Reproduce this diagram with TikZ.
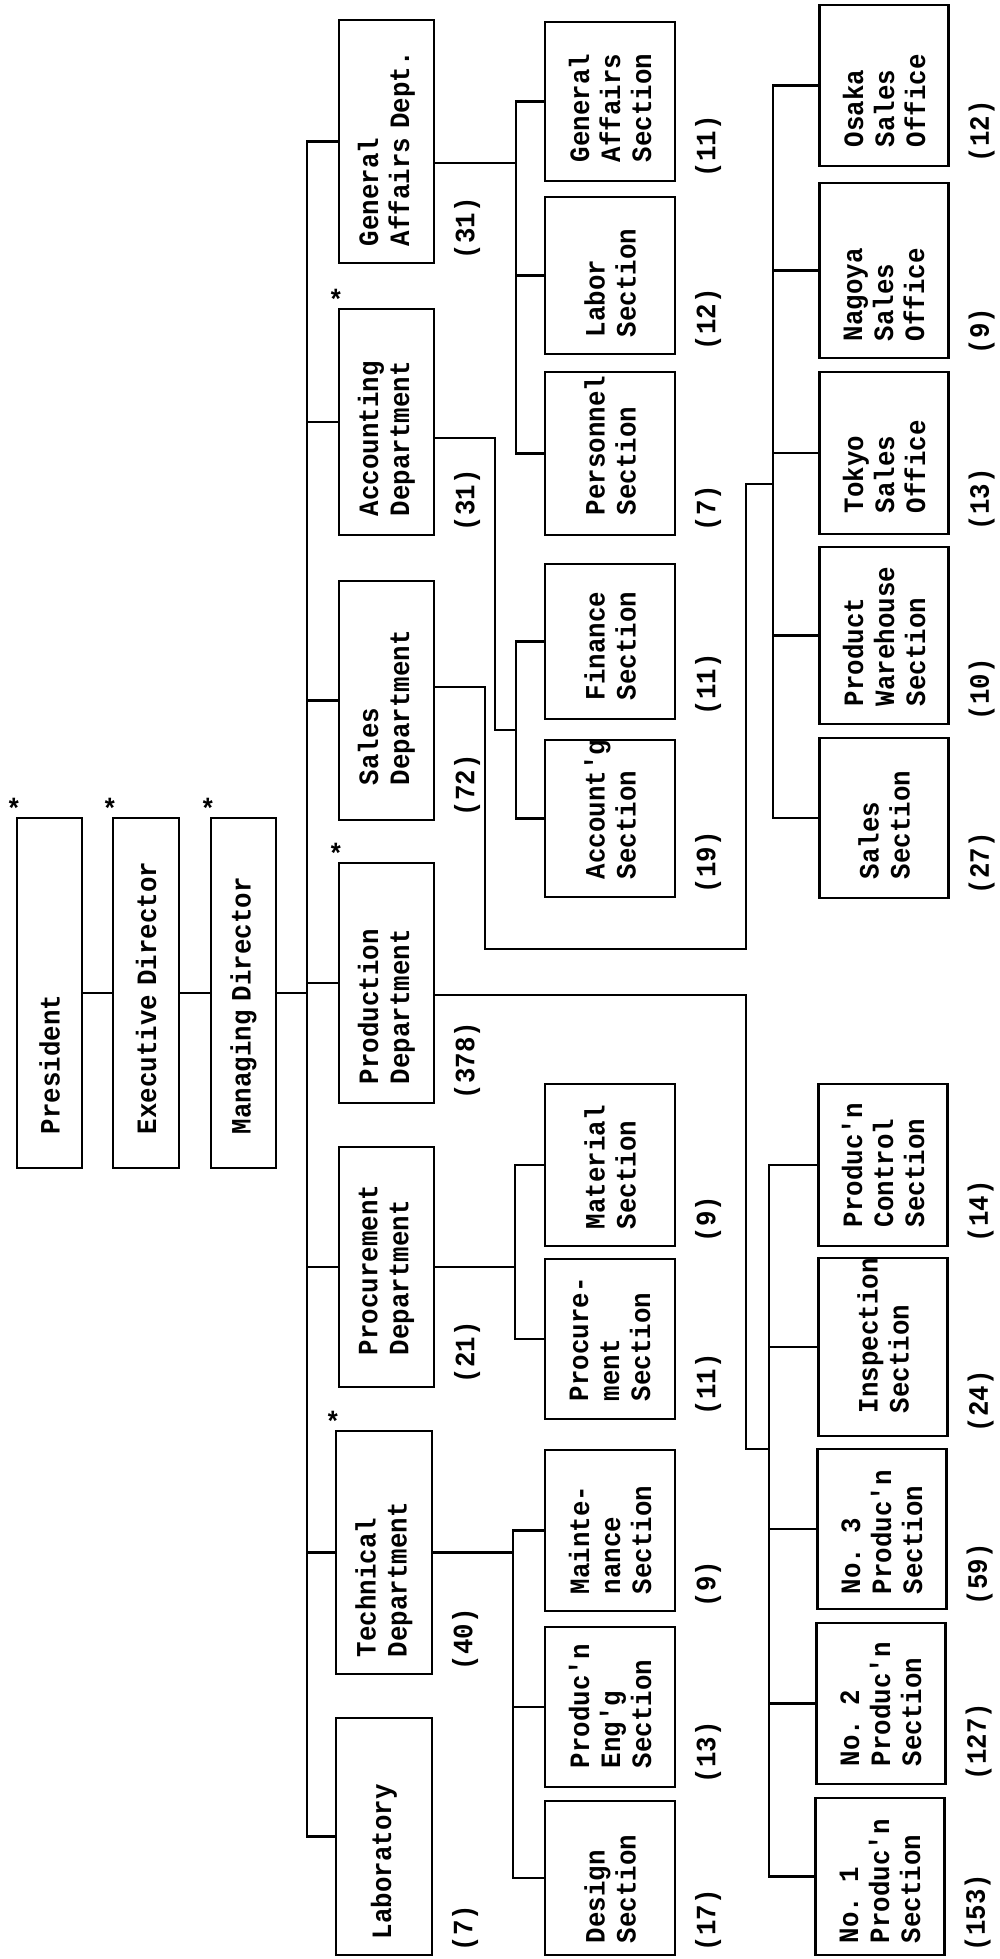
\documentclass[tikz,border=0pt]{standalone}
\usepackage{fontspec}
\setmonofont[FakeStretch=0.92]{Liberation Mono}
\newcommand{\chartfont}{\ttfamily\bfseries\fontsize{28}{31}\selectfont\hyphenpenalty=10000 }
\tikzset{
    orgbox/.style={draw, line width=2.4pt, rotate=90, align=left, inner ysep=0pt, inner xsep=18pt, font=\chartfont},
    headcount/.style={rotate=90, anchor=west, inner sep=0pt, font=\chartfont},
    starmark/.style={inner sep=0pt, font=\chartfont},
    wire/.style={line width=2.4pt, line cap=rect}
}
\begin{document}
\begin{tikzpicture}[x=1pt, y=-1pt]
    \useasboundingbox (0,0) rectangle (999,1959);

    % top of the line
    \node[orgbox, minimum height=65pt, text width=282pt, inner xsep=34pt] (pres) at (49.5,993) {President};
    \node[orgbox, minimum height=66pt, text width=282pt, inner xsep=34pt] (exec) at (146,993) {Executive Director};
    \node[orgbox, minimum height=65pt, text width=282pt, inner xsep=34pt] (mgr) at (243.5,993) {Managing Director};

    % departments
    \node[orgbox, minimum height=95pt, text width=209pt, inner xsep=17pt] (gad) at (386.5,141.5) {General\\Affairs Dept.};
    \node[orgbox, minimum height=95pt, text width=188pt, inner xsep=19pt] (acc) at (386.5,422) {Accounting\\Department};
    \node[orgbox, minimum height=95pt, text width=169pt, inner xsep=35pt] (sal) at (386.5,700.5) {Sales\\Department};
    \node[orgbox, minimum height=95pt, text width=202pt, inner xsep=19pt] (prd) at (386.5,983) {Production\\Department};
    \node[orgbox, minimum height=95pt, text width=176pt, inner xsep=32pt] (prc) at (386.5,1267) {Procurement\\Department};
    \node[orgbox, minimum height=96pt, text width=209pt, inner xsep=17pt] (tec) at (384,1552.5) {Technical\\Department};
    \node[orgbox, minimum height=96pt, text width=205pt, inner xsep=16pt] (lab) at (384,1836.5) {Laboratory};

    % sections, first column
    \node[orgbox, minimum height=130pt, text width=121pt, inner xsep=19pt] (gas) at (610,101.5) {General\\Affairs\\Section};
    \node[orgbox, minimum height=130pt, text width=123pt, inner xsep=17pt] (lbr) at (610,275.5) {Labor\\Section};
    \node[orgbox, minimum height=130pt, text width=123pt, inner xsep=20pt] (per) at (610,453.5) {Personnel\\Section};
    \node[orgbox, minimum height=130pt, text width=117pt, inner xsep=19pt] (fin) at (610,641.5) {Finance\\Section};
    \node[orgbox, minimum height=130pt, text width=121pt, inner xsep=18pt] (acs) at (610,818.5) {Account'g\\Section};
    \node[orgbox, minimum height=130pt, text width=128pt, inner xsep=17pt] (mat) at (610,1165) {Material\\Section};
    \node[orgbox, minimum height=130pt, text width=124pt, inner xsep=18pt] (pcs) at (610,1339) {Procure-\\ment\\Section};
    \node[orgbox, minimum height=130pt, text width=127pt, inner xsep=17pt] (mnt) at (610,1530.5) {Mainte-\\nance\\Section};
    \node[orgbox, minimum height=130pt, text width=122pt, inner xsep=19pt] (pen) at (610,1707) {Produc'n\\Eng'g\\Section};
    \node[orgbox, minimum height=130pt, text width=130pt, inner xsep=12pt] (dsn) at (610,1878) {Design\\Section};

    % sections, second column
    \node[orgbox, minimum height=129pt, text width=123pt, inner xsep=19pt] (osk) at (884,85.5) {Osaka\\Sales\\Office};
    \node[orgbox, minimum height=129pt, text width=141pt, inner xsep=17pt] (ngy) at (884,270.5) {Nagoya\\Sales\\Office};
    \node[orgbox, minimum height=129pt, text width=120pt, inner xsep=21pt] (tky) at (884,453) {Tokyo\\Sales\\Office};
    \node[orgbox, minimum height=129pt, text width=141pt, inner xsep=18pt] (pwh) at (884,635.5) {Product\\Warehouse\\Section};
    \node[orgbox, minimum height=129pt, text width=122pt, inner xsep=19pt] (sss) at (884,818) {Sales\\Section};
    \node[orgbox, minimum height=129pt, text width=124pt, inner xsep=19pt] (pcn) at (883,1165) {Produc'n\\Control\\Section};
    \node[orgbox, minimum height=129pt, text width=132pt, inner xsep=23pt] (ins) at (883,1347) {Inspection\\Section};
    \node[orgbox, minimum height=129pt, text width=130pt, inner xsep=15pt] (n3) at (882,1529) {No. 3\\Produc'n\\Section};
    \node[orgbox, minimum height=129pt, text width=125pt, inner xsep=18pt] (n2) at (881,1703.5) {No. 2\\Produc'n\\Section};
    \node[orgbox, minimum height=129pt, text width=133pt, inner xsep=12pt] (n1) at (880,1876.5) {No. 1\\Produc'n\\Section};

    % head counts
    \foreach \n/\c in {gad/31, acc/31, sal/72, prd/378, prc/21, tec/40, lab/7,
                       gas/11, lbr/12, per/7, fin/11, acs/19, mat/9, pcs/11, mnt/9, pen/13, dsn/17,
                       osk/12, ngy/9, tky/13, pwh/10, sss/27, pcn/14, ins/24, n3/59, n2/127, n1/153}
        \node[headcount] (\n-n) at ([xshift=32pt, yshift=5pt]\n.south west) {(\c)};

    % stars
    \foreach \n in {pres, exec, mgr, acc, prd, tec}
        \node[starmark] (\n-s) at ([xshift=-2pt, yshift=8pt]\n.north east) {*};

    % main line
    \coordinate (sp) at (307,0);
    \draw[wire] (pres.south) -- (exec.north);
    \draw[wire] (exec.south) -- (mgr.north);
    \draw[wire] (mgr.south) -- (mgr.south -| sp);
    \draw[wire] (gad.north -| sp) -- (lab.north -| sp);
    \foreach \n in {gad, acc, sal, prd, prc, tec, lab}
        \draw[wire] (\n.north -| sp) -- (\n.north);

    % general affairs
    \coordinate (ga-j) at (516,163);
    \draw[wire] (ga-j -| gad.south) -- (ga-j);
    \draw[wire] (gas.north -| ga-j) -- (per.north -| ga-j);
    \foreach \n in {gas, lbr, per}
        \draw[wire] (\n.north -| ga-j) -- (\n.north);

    % accounting
    \coordinate (ac-j) at (495,438);
    \coordinate (ac-k) at (516,730);
    \draw[wire] (ac-j -| acc.south) -- (ac-j) |- (ac-k);
    \draw[wire] (fin.north -| ac-k) -- (acs.north -| ac-k);
    \foreach \n in {fin, acs}
        \draw[wire] (\n.north -| ac-k) -- (\n.north);

    % sales
    \coordinate (sa-j) at (485,687);
    \coordinate (sa-k) at (746,949);
    \coordinate (sa-m) at (773,484);
    \draw[wire] (sa-j -| sal.south) -- (sa-j) |- (sa-k) |- (sa-m);
    \draw[wire] (osk.north -| sa-m) -- (sss.north -| sa-m);
    \foreach \n in {osk, ngy, tky, pwh, sss}
        \draw[wire] (\n.north -| sa-m) -- (\n.north);

    % production
    \coordinate (pr-j) at (746,995);
    \coordinate (pr-k) at (769,1449);
    \draw[wire] (pr-j -| prd.south) -- (pr-j) |- (pr-k);
    \draw[wire] (pcn.north -| pr-k) -- (n1.north -| pr-k);
    \foreach \n in {pcn, ins, n3, n2, n1}
        \draw[wire] (\n.north -| pr-k) -- (\n.north);

    % procurement
    \coordinate (pc-j) at (515,0);
    \draw[wire] (prc.south) -- (prc.south -| pc-j);
    \draw[wire] (mat.north -| pc-j) -- (pcs.north -| pc-j);
    \foreach \n in {mat, pcs}
        \draw[wire] (\n.north -| pc-j) -- (\n.north);

    % technical
    \coordinate (te-j) at (513,0);
    \draw[wire] (tec.south) -- (tec.south -| te-j);
    \draw[wire] (mnt.north -| te-j) -- (dsn.north -| te-j);
    \foreach \n in {mnt, pen, dsn}
        \draw[wire] (\n.north -| te-j) -- (\n.north);
\end{tikzpicture}
\end{document}
